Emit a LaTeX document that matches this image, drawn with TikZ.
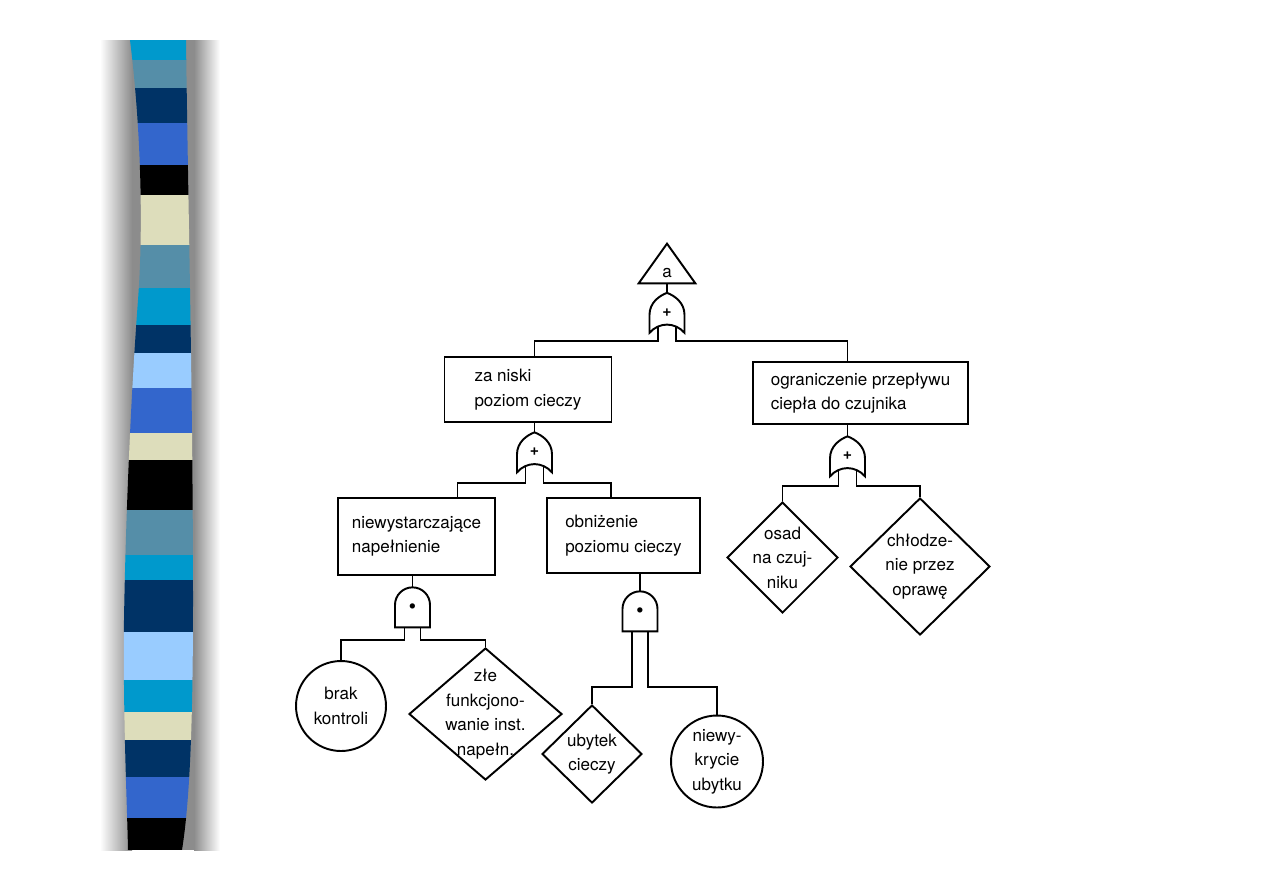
\documentclass[tikz,border=0pt]{standalone}
\usepackage{fontspec}
\setmainfont{TeX Gyre Heros}
\usetikzlibrary{positioning,shapes.geometric}

\definecolor{stcyan}{RGB}{0,153,204}
\definecolor{ststeel}{RGB}{85,142,168}
\definecolor{stnavy}{RGB}{0,51,102}
\definecolor{stroyal}{RGB}{51,102,204}
\definecolor{stbeige}{RGB}{221,221,187}
\definecolor{stlight}{RGB}{153,204,255}

% OR gate: name, position (output on top, two legs below)
\newcommand{\orgate}[2]{%
  \node[gate] (#1) at (#2) {\small\textbf{+}};
  \begin{scope}[shift={(#1.south)}]
    \draw[ln] (-17.5,0) -- (-17.5,-18)
      .. controls (-17.5,-30) and (-8,-37) .. (0,-40)
      .. controls (8,-37) and (17.5,-30) .. (17.5,-18)
      -- (17.5,0) .. controls (8,-11) and (-8,-11) .. (-17.5,0) -- cycle;
    \coordinate (#1-l) at (-9,-6.3);
    \coordinate (#1-r) at (9,-6.3);
  \end{scope}}

% AND gate: name, position
\newcommand{\andgate}[2]{%
  \node[gate] (#1) at (#2) {\scriptsize$\bullet$};
  \begin{scope}[shift={(#1.south)}]
    \draw[ln] (-17.5,0) -- (-17.5,-22.5)
      arc[start angle=180, end angle=0, radius=0.35cm] -- (17.5,0) -- cycle;
    \coordinate (#1-l) at (-8,0);
    \coordinate (#1-r) at (8,0);
  \end{scope}}

\begin{document}
\begin{tikzpicture}[x=0.02cm, y=-0.02cm,
  ln/.style={line width=1.1pt, black},
  txt/.style={font=\fontsize{9.7}{14}\selectfont, align=center, inner sep=0pt},
  evt/.style={draw, ln, rectangle, align=left, inner sep=0pt,
              font=\fontsize{9.7}{14}\selectfont},
  gate/.style={rectangle, minimum width=0.7cm, minimum height=0.8cm, inner sep=0pt},
  leafc/.style={draw, ln, circle, txt},
  leafd/.style={draw, ln, diamond, inner sep=0pt}
]
\useasboundingbox (0,0) rectangle (1263,893);

%% ═══════════════════════════════════════════════
%% striped side bar
%% ═══════════════════════════════════════════════
\shade[left color=white, right color=black!45] (100,40) rectangle (132,850);
\fill[black!45] (132,40) rectangle (146,850);
\fill[black!45] (180,40) rectangle (194,850);
\shade[left color=black!45, right color=white] (194,40) rectangle (220,850);
\begin{scope}
  \clip (130,40) .. controls (140,120) and (144,220) .. (138,300)
        .. controls (132,380) and (126,500) .. (124,620)
        .. controls (123,720) and (127,800) .. (128,850)
        -- (182,850) .. controls (190,800) and (193,720) .. (193,600)
        .. controls (193,400) and (188,200) .. (186,40) -- cycle;
  \foreach \ya/\yb/\c in {40/60/stcyan, 60/88/ststeel, 88/123/stnavy,
      123/165/stroyal, 165/195/black, 195/245/stbeige, 245/288/ststeel,
      288/325/stcyan, 325/353/stnavy, 353/388/stlight, 388/433/stroyal,
      433/460/stbeige, 460/510/black, 510/555/ststeel, 555/580/stcyan,
      580/632/stnavy, 632/680/stlight, 680/712/stcyan, 712/740/stbeige,
      740/777/stnavy, 777/818/stroyal, 818/850/black}
    \fill[\c] (115,\ya) rectangle (200,\yb);
\end{scope}

%% ═══════════════════════════════════════════════
%% top event and gates
%% ═══════════════════════════════════════════════
\node[rectangle, minimum width=1.12cm, minimum height=0.78cm, inner sep=0pt,
      label={[txt, anchor=south, yshift=3pt]south:a}] (tri) at (667,263.5) {};
\draw[ln] (tri.south west) -- (tri.north) -- (tri.south east) -- cycle;

\orgate{g0}{667,312.5}
\orgate{g1}{534.5,452}
\orgate{g4}{847.5,456}
\andgate{g2}{412.5,607}
\andgate{g3}{640,611}

% events
\node[evt, minimum width=3.34cm, minimum height=1.3cm]  (b1) at (528,389.5) {za niski\\poziom cieczy};
\node[evt, minimum width=4.3cm,  minimum height=1.24cm] (b2) at (860.5,393)  {ograniczenie przepływu\\ciepła do czujnika};
\node[evt, minimum width=3.14cm, minimum height=1.54cm] (b3) at (416.5,536.5) {niewystarczające\\napełnienie};
\node[evt, minimum width=3.06cm, minimum height=1.5cm]  (b4) at (623.5,535.5) {obniżenie\\poziomu cieczy};

% basic / undeveloped events
\node[leafc, minimum size=1.8cm]  (c1) at (341,706)   {brak\\kontroli};
\node[leafc, minimum size=1.84cm] (c2) at (717,761.5) {niewy-\\krycie\\ubytku};
\node[leafd, minimum width=3.06cm, minimum height=2.64cm,
      label={[txt]center:złe\\funkcjono-\\wanie inst.\\napełn.}] (d1) at (485.5,714) {};
\node[leafd, minimum width=2cm, minimum height=1.96cm,
      label={[txt]center:ubytek\\cieczy}] (d2) at (592,754) {};
\node[leafd, minimum width=2.22cm, minimum height=2.22cm,
      label={[txt]center:osad\\na czuj-\\niku}] (d3) at (782.5,557.5) {};
\node[leafd, minimum width=2.8cm, minimum height=2.74cm,
      label={[txt]center:chłodze-\\nie przez\\oprawę}] (d4) at (920,566.5) {};

%% ═══════════════════════════════════════════════
%% connectors
%% ═══════════════════════════════════════════════
\draw[ln] (tri.south) -- (g0.north);
\draw[ln] (g0-l) -- ++(0,14.3) -| (b1.north -| g1);
\draw[ln] (g0-r) -- ++(0,14.3) -| (b2.north -| g4);

\draw[ln] (b1.south -| g1) -- (g1.north);
\draw[ln] (g1-l) -- ++(0,17) -| ([xshift=0.82cm]b3.north);
\draw[ln] (g1-r) -- ++(0,17) -| ([xshift=-0.25cm]b4.north);

\draw[ln] (b3.south -| g2) -- (g2.north);
\draw[ln] (g2-l) -- ++(0,13) -| (c1.north);
\draw[ln] (g2-r) -- ++(0,13) -| (d1.north);

\draw[ln] (b4.south -| g3) -- (g3.north);
\draw[ln] (g3-l) -- ++(0,56) -| (d2.north);
\draw[ln] (g3-r) -- ++(0,56) -| (c2.north);

\draw[ln] (b2.south -| g4) -- (g4.north);
\draw[ln] (g4-l) -- ++(0,16) -| (d3.north);
\draw[ln] (g4-r) -- ++(0,16) -| (d4.north);

\end{tikzpicture}
\end{document}
